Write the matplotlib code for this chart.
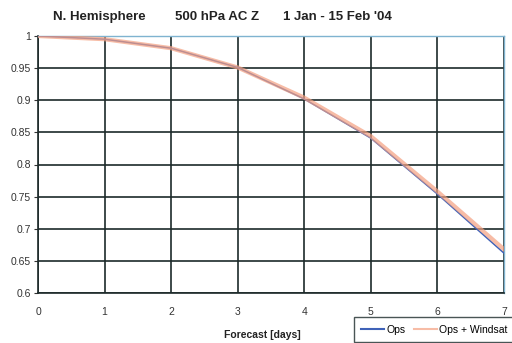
import matplotlib
matplotlib.use('Agg')
import matplotlib.pyplot as plt

# forecast day and anomaly correlation
days = [0, 1, 2, 3, 4, 5, 6, 7]
ops = [1.0, 0.995, 0.981, 0.951, 0.902, 0.841, 0.754, 0.662]
ops_windsat = [1.0, 0.995, 0.981, 0.951, 0.904, 0.844, 0.758, 0.668]
y_ticks = [0.6, 0.65, 0.7, 0.75, 0.8, 0.85, 0.9, 0.95, 1]
y_labels = ['0.6', '0.65', '0.7', '0.75', '0.8', '0.85', '0.9', '0.95', '1']

plt.rcParams['font.family'] = ['Liberation Sans', 'DejaVu Sans']

fig = plt.figure(figsize=(5.12, 3.43), dpi=100)
ax = fig.add_axes([38 / 512, 50 / 343, 466 / 512, 257 / 343])

ax.plot(days, ops, color='#3f62b8', lw=1.1, label='Ops', zorder=3)
ax.plot(days, ops_windsat, color='#f4a080', lw=3.0, alpha=0.7,
        label='Ops + Windsat', zorder=4)

ax.set_xlim(0, 7)
ax.set_ylim(0.6, 1.0)
ax.set_xticks(days)
ax.set_yticks(y_ticks)
ax.set_yticklabels(y_labels)
ax.grid(True, color='#1c2a2a', lw=1.2)
ax.set_axisbelow(True)
ax.tick_params(axis='x', length=0, pad=10, labelsize=7.5, labelcolor='#333333')
ax.tick_params(axis='y', length=3, pad=2, labelsize=7.5, labelcolor='#333333', color='#333333')

for side in ['top', 'right']:
    ax.spines[side].set_color('#7fb3d0')
    ax.spines[side].set_linewidth(1.0)
for side in ['left', 'bottom']:
    ax.spines[side].set_color('#1c2a2a')
    ax.spines[side].set_linewidth(1.2)

title_kw = dict(fontsize=9.5, fontweight='bold', color='#222222', va='center')
fig.text(53 / 512, 0.95, 'N. Hemisphere', **title_kw)
fig.text(175 / 512, 0.95, '500 hPa AC Z', **title_kw)
fig.text(283 / 512, 0.95, '1 Jan - 15 Feb \'04', **title_kw)
fig.text(262 / 512, 0.022, 'Forecast [days]', fontsize=7.5, fontweight='bold',
         color='#222222', ha='center', va='center')

leg = ax.legend(loc='lower left', bbox_to_anchor=(354 / 512, 1 / 343),
                bbox_transform=fig.transFigure, ncol=2, fontsize=7.5,
                frameon=True, fancybox=False, edgecolor='#1c2a2a',
                handlelength=2.2, columnspacing=0.8, borderpad=0.7,
                handletextpad=0.2, borderaxespad=0)
leg.get_frame().set_linewidth(1.0)
for line in leg.get_lines():
    line.set_linewidth(1.5)

fig.savefig('out.png', dpi=100)
